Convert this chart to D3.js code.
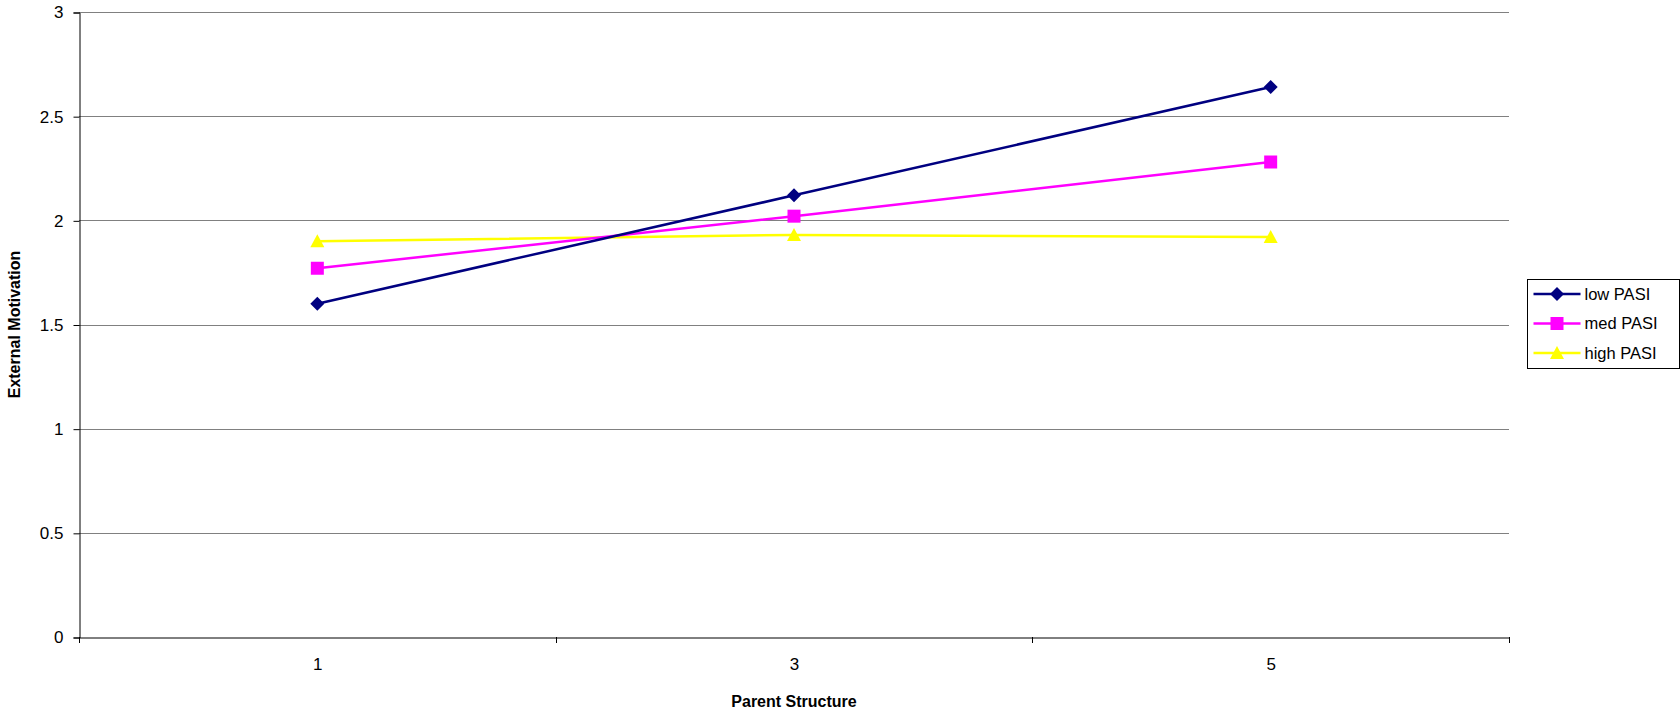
<!DOCTYPE html>
<html>
<head>
<meta charset="utf-8">
<script src="https://cdn.jsdelivr.net/npm/d3@7"></script>
<style>
  body { margin: 0; background: #fff; }
  svg { display: block; font-family: Arial, "Liberation Sans", sans-serif; }
</style>
</head>
<body>
<div id="app"></div>
<script>
const categories = ['1', '3', '5'];
const lowPASI = [1.6, 2.12, 2.64];
const medPASI = [1.77, 2.02, 2.28];
const highPASI = [1.9, 1.93, 1.92];
const yTicks = [0, 0.5, 1, 1.5, 2, 2.5, 3];

const series = [
  { name: 'low PASI', values: lowPASI, color: '#000080', marker: 'diamond' },
  { name: 'med PASI', values: medPASI, color: '#FF00FF', marker: 'square' },
  { name: 'high PASI', values: highPASI, color: '#FFFF00', marker: 'triangle' }
];

const svgConf = {
  width: 1680,
  height: 712,
  margin: { top: 12, right: 171, bottom: 75, left: 79 }
};

function markerPath(type) {
  if (type === 'diamond') return 'M0,-7L7,0L0,7L-7,0Z';
  if (type === 'square') return 'M-6.5,-6.5H6.5V6.5H-6.5Z';
  return 'M0,-7L7,6L-7,6Z';
}

function main() {
  const svg = d3.select('#app').append('svg')
    .attr('width', svgConf.width)
    .attr('height', svgConf.height);

  const m = svgConf.margin;
  const x = d3.scaleBand()
    .domain(categories)
    .range([m.left, svgConf.width - m.right])
    .padding(0);

  const y = d3.scaleLinear()
    .domain([0, 3])
    .range([svgConf.height - m.bottom, m.top]);

  // gridlines
  svg.append('g')
    .selectAll('line')
    .data(yTicks.filter(d => d > 0))
    .enter()
    .append('line')
    .attr('x1', m.left)
    .attr('x2', svgConf.width - m.right)
    .attr('y1', d => Math.round(y(d)) + 0.5)
    .attr('y2', d => Math.round(y(d)) + 0.5)
    .attr('stroke', '#808080')
    .attr('stroke-width', 1);

  // y axis
  const yAxis = svg.append('g')
    .attr('transform', `translate(${m.left + 0.5}, 0.5)`)
    .call(d3.axisLeft(y).tickValues(yTicks).tickFormat(d3.format('')).tickSizeOuter(0).tickSize(6).tickPadding(10));
  yAxis.select('.domain').attr('stroke', '#000');
  yAxis.selectAll('.tick line').attr('stroke', '#000');
  yAxis.selectAll('text').attr('font-size', 17).attr('fill', '#000');

  // x axis
  const xAxis = svg.append('g')
    .attr('transform', `translate(0.5, ${Math.round(y(0)) + 0.5})`)
    .call(d3.axisBottom(x).tickSize(0).tickPadding(20).tickSizeOuter(0));
  xAxis.select('.domain').attr('stroke', '#000');
  xAxis.selectAll('text').attr('font-size', 17).attr('fill', '#000');

  // category boundary ticks
  const bounds = categories.map(c => x(c)).concat([x.range()[1]]);
  svg.append('g')
    .selectAll('line')
    .data(bounds)
    .enter()
    .append('line')
    .attr('x1', d => Math.round(d) + 0.5)
    .attr('x2', d => Math.round(d) + 0.5)
    .attr('y1', Math.round(y(0)))
    .attr('y2', Math.round(y(0)) + 6)
    .attr('stroke', '#000');

  const cx = c => x(c) + x.bandwidth() / 2;

  const line = d3.line()
    .x((d, i) => cx(categories[i]))
    .y(d => y(d));

  const g = svg.append('g');
  series.slice().reverse().forEach(s => {
    g.append('path')
      .datum(s.values)
      .attr('d', line)
      .attr('fill', 'none')
      .attr('stroke', s.color)
      .attr('stroke-width', 2.5);

    g.selectAll(null)
      .data(s.values)
      .enter()
      .append('path')
      .attr('d', markerPath(s.marker))
      .attr('transform', (d, i) => `translate(${cx(categories[i])}, ${y(d)})`)
      .attr('fill', s.color);
  });

  // axis titles
  svg.append('text')
    .attr('x', (m.left + svgConf.width - m.right) / 2)
    .attr('y', 707)
    .attr('text-anchor', 'middle')
    .attr('font-size', 16)
    .attr('font-weight', 'bold')
    .text('Parent Structure');

  svg.append('text')
    .attr('transform', `translate(20, ${(y(0) + y(3)) / 2}) rotate(-90)`)
    .attr('text-anchor', 'middle')
    .attr('font-size', 16)
    .attr('font-weight', 'bold')
    .text('External Motivation');

  // legend
  const legend = svg.append('g').attr('transform', 'translate(1527.5, 279.5)');
  legend.append('rect')
    .attr('width', 152)
    .attr('height', 89)
    .attr('fill', '#fff')
    .attr('stroke', '#000');

  const item = legend.selectAll('g')
    .data(series)
    .enter()
    .append('g')
    .attr('transform', (d, i) => `translate(0, ${14.5 + i * 29.5})`);

  item.append('line')
    .attr('x1', 6)
    .attr('x2', 53)
    .attr('stroke', d => d.color)
    .attr('stroke-width', 2.5);

  item.append('path')
    .attr('d', d => markerPath(d.marker))
    .attr('transform', 'translate(29.5, 0)')
    .attr('fill', d => d.color);

  item.append('text')
    .attr('x', 57)
    .attr('dy', '0.35em')
    .attr('font-size', 16.5)
    .text(d => d.name);
}

main();
</script>
</body>
</html>
